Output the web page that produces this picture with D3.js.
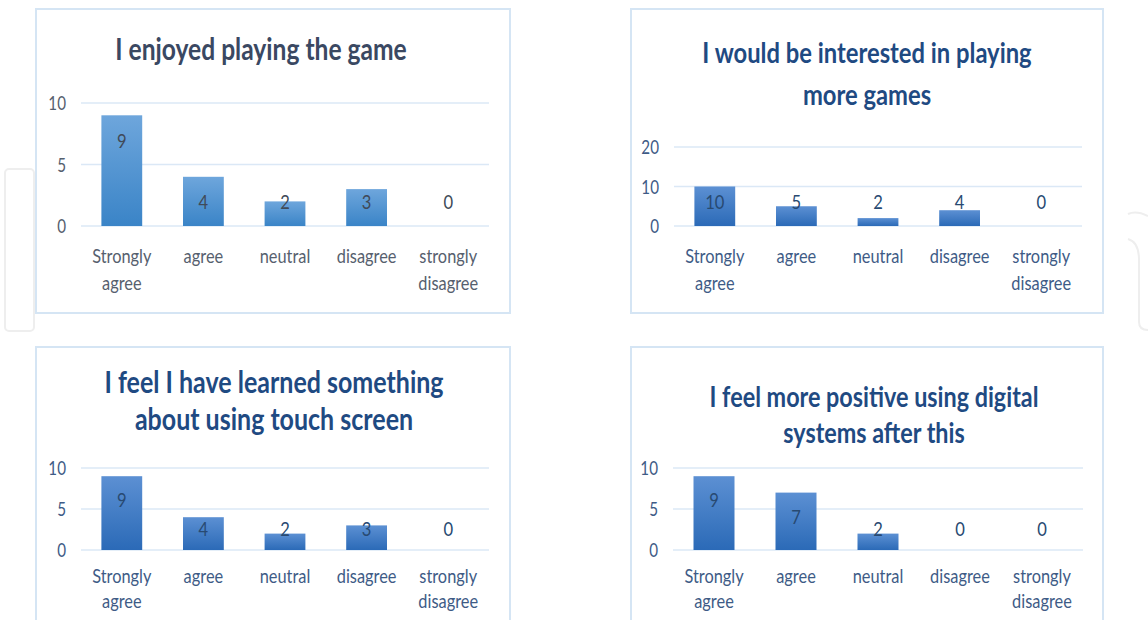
<!DOCTYPE html>
<html>
<head>
<meta charset="utf-8">
<script src="https://cdn.jsdelivr.net/npm/d3@7"></script>
<style>
  body { margin: 0; background: #fff; }
  svg { display: block; font-family: Lato, "Open Sans", sans-serif; }
</style>
</head>
<body>
<svg id="chart" width="1148" height="620"></svg>
<script>
// survey answers
const categories = ["Strongly agree", "agree", "neutral", "disagree", "strongly disagree"];
const titles = [
    ["I enjoyed playing the game"],
    ["I would be interested in playing", "more games"],
    ["I feel I have learned something", "about using touch screen"],
    ["I feel more positive using digital", "systems after this"]
];
const enjoyed = [9, 4, 2, 3, 0];
const interested = [10, 5, 2, 4, 0];
const learned = [9, 4, 2, 3, 0];
const positive = [9, 7, 2, 0, 0];
const yTicks = [[0, 5, 10], [0, 10, 20], [0, 5, 10], [0, 5, 10]];

// panel layout (box, plot area, title baselines, category baselines)
const panels = [
    { values: enjoyed, box: [36, 9, 510, 313], x: [81, 489], y: [226, 103], titleX: 261, titleY: [60], titleSize: 30, catY: [263, 290], lblOff: [26, 24], theme: 0 },
    { values: interested, box: [631, 9, 1103, 313], x: [674, 1082], y: [226, 147], titleX: 867, titleY: [63, 105], titleSize: 29, catY: [263, 290], lblOff: [26, 24], theme: 1 },
    { values: learned, box: [36, 347, 510, 640], x: [81, 489], y: [550, 468], titleX: 274, titleY: [393, 430], titleSize: 30.5, catY: [583, 608], lblOff: [24, 21], theme: 1 },
    { values: positive, box: [631, 347, 1103, 640], x: [673, 1083], y: [550, 468], titleX: 874, titleY: [407, 443], titleSize: 28.5, catY: [583, 608], lblOff: [24, 21], theme: 1 }
];

const themes = [
    { title: "#3a4862", text: "#56606e", label: "#404a58", barTop: "#6ea6dc", barBot: "#3a84c7" },
    { title: "#1f4a82", text: "#3e5b86", label: "#284a72", barTop: "#5c90d3", barBot: "#2b6ab7" }
];

const svg = d3.select("#chart");
const defs = svg.append("defs");
themes.forEach((t, i) => {
    const g = defs.append("linearGradient").attr("id", "bar" + i)
        .attr("x1", 0).attr("y1", 0).attr("x2", 0).attr("y2", 1);
    g.append("stop").attr("offset", "0%").attr("stop-color", t.barTop);
    g.append("stop").attr("offset", "100%").attr("stop-color", t.barBot);
});

// faint watermark shapes in the background
svg.append("rect").attr("x", 5).attr("y", 169).attr("width", 29).attr("height", 162).attr("rx", 4)
    .attr("fill", "none").attr("stroke", "#eeeeee").attr("stroke-width", 2);
svg.append("path").attr("d", "M1128,214 Q1136,210 1148,216 M1128,239 Q1139,242 1139,260 L1139,322 Q1139,330 1148,330")
    .attr("fill", "none").attr("stroke", "#eeeeee").attr("stroke-width", 2);

// text squeezed horizontally a bit, to look like Calibri
function txt(g, x, y, str, size, color, weight, sx) {
    return g.append("text")
        .attr("transform", `translate(${x},${y}) scale(${sx},1)`)
        .attr("text-anchor", "middle")
        .attr("font-size", size)
        .attr("font-weight", weight)
        .attr("fill", color)
        .text(str);
}

panels.forEach((p, pi) => {
    const t = themes[p.theme];
    const g = svg.append("g");
    const [bx0, by0, bx1, by1] = p.box;

    g.append("rect").attr("x", bx0).attr("y", by0).attr("width", bx1 - bx0).attr("height", by1 - by0)
        .attr("fill", "#fff").attr("stroke", "#d5e5f4").attr("stroke-width", 2);

    titles[pi].forEach((line, li) => txt(g, p.titleX, p.titleY[li], line, p.titleSize, t.title, 700, 0.82));

    const ticks = yTicks[pi];
    const x = d3.scaleBand().domain(categories).range(p.x).paddingInner(0.5).paddingOuter(0.25);
    const y = d3.scaleLinear().domain([0, d3.max(ticks)]).range(p.y);

    // gridlines
    g.selectAll(".grid").data(ticks).join("line")
        .attr("x1", p.x[0]).attr("x2", p.x[1])
        .attr("y1", d => y(d)).attr("y2", d => y(d))
        .attr("stroke", "#dbe8f6").attr("stroke-width", 1.5);

    // y tick labels
    ticks.forEach(v => {
        txt(g, p.x[0] - 15, y(v) + 7, v, 19, t.text, 400, 0.8).attr("text-anchor", "end");
    });

    // bars
    g.selectAll(".bar").data(p.values).join("rect")
        .attr("x", (d, i) => x(categories[i]))
        .attr("y", d => y(d))
        .attr("width", x.bandwidth())
        .attr("height", d => y(0) - y(d))
        .attr("fill", `url(#bar${p.theme})`);

    // data labels
    p.values.forEach((v, i) => {
        const cy = Math.min(y(v) + p.lblOff[0], y(0) - p.lblOff[1]);
        txt(g, x(categories[i]) + x.bandwidth() / 2, cy + 7, v, 19.5, t.label, 400, 0.85);
    });

    // category labels, split on the space
    categories.forEach(c => {
        const cx = x(c) + x.bandwidth() / 2;
        c.split(" ").forEach((w, li) => txt(g, cx, p.catY[li], w, 19.5, t.text, 400, 0.84));
    });
});
</script>
</body>
</html>
